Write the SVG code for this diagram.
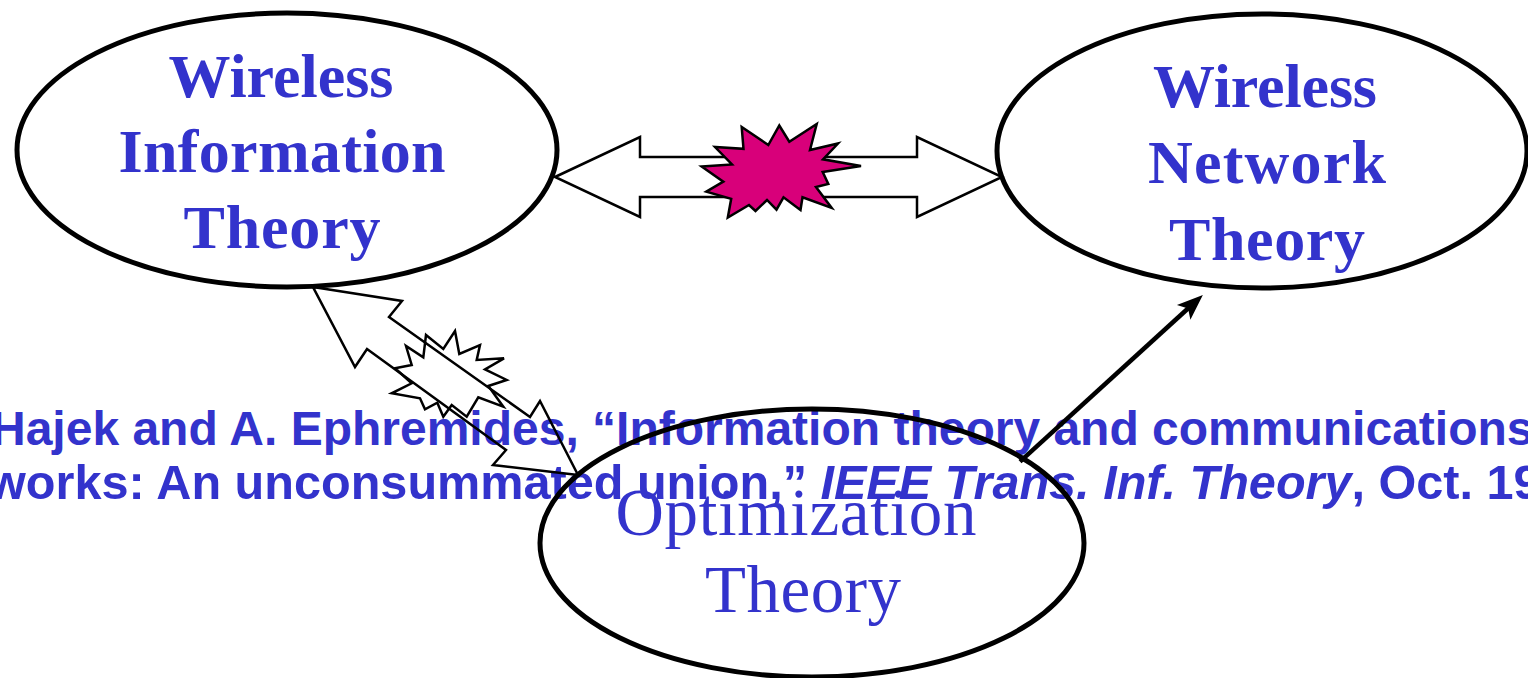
<svg xmlns="http://www.w3.org/2000/svg" width="1528" height="678" viewBox="0 0 1528 678">
  <style>
    .node { fill: none; stroke: #000; stroke-width: 5; }
    .lbl { font-family: "Liberation Serif", "Times New Roman", serif; font-weight: bold; font-size: 62px; fill: #3333CC; text-anchor: middle; }
    .lblr { font-family: "Liberation Serif", "Times New Roman", serif; font-weight: normal; font-size: 67px; fill: #3333CC; text-anchor: middle; }
    .cite { font-family: "Liberation Sans", Arial, sans-serif; font-weight: bold; font-size: 48px; fill: #3333CC; }
    .fat { fill: #fff; stroke: #000; stroke-width: 2.5; stroke-linejoin: miter; }
    .fatOpen { fill: none; stroke: #000; stroke-width: 2.5; stroke-linejoin: miter; }
    .burst { fill: #D8007A; stroke: #000; stroke-width: 2.5; stroke-linejoin: miter; }
    .burstOpen { fill: none; stroke: #000; stroke-width: 2.5; stroke-linejoin: miter; }
    .thin { fill: none; stroke: #000; stroke-width: 4.5; }
  </style>
  <defs>
    <marker id="head" viewBox="-30 -12 32 24" refX="-12" refY="0" markerWidth="32" markerHeight="24" markerUnits="userSpaceOnUse" orient="auto">
      <path d="M0,0 L-26,-10 L-20,0 L-26,10 Z" fill="#000"/>
    </marker>
  </defs>
  <rect x="0" y="0" width="1528" height="678" fill="#fff"/>

  <g id="citation">
    <text class="cite" x="-9" y="445">Hajek and A. Ephremides, “Information theory and communications</text>
    <text class="cite" x="-12" y="499" style="font-size:48.6px">works: An unconsummated union,” <tspan font-style="italic">IEEE Trans. Inf. Theory</tspan>, Oct. 19</text>
  </g>

  <g id="node-wit">
    <ellipse class="node" cx="287" cy="150" rx="270" ry="137"/>
    <text class="lbl" x="281" y="97" textLength="225" lengthAdjust="spacing">Wireless</text>
    <text class="lbl" x="282" y="172" textLength="327" lengthAdjust="spacing">Information</text>
    <text class="lbl" x="282" y="248" textLength="197" lengthAdjust="spacing">Theory</text>
  </g>

  <g id="node-wnt">
    <ellipse class="node" cx="1262" cy="151" rx="265" ry="137"/>
    <text class="lbl" x="1265" y="107" textLength="224" lengthAdjust="spacing">Wireless</text>
    <text class="lbl" x="1267" y="183" textLength="238" lengthAdjust="spacing">Network</text>
    <text class="lbl" x="1267" y="260" textLength="196" lengthAdjust="spacing">Theory</text>
  </g>

  <g id="node-ot">
    <ellipse class="node" cx="812" cy="543" rx="272" ry="134"/>
    <text class="lblr" x="796" y="535" textLength="361" lengthAdjust="spacing">Optimization</text>
    <text class="lblr" x="803" y="612" textLength="196" lengthAdjust="spacing">Theory</text>
  </g>

  <g id="connectors">
    <polygon class="fat" points="555,177 640,137 640,157 917,157 917,137 1002,177 917,217 917,197 640,197 640,217"/>
    <polygon class="burst" points="701.7,166.5 732,164.5 715,147 743.5,148.8 741.7,127 768.3,145 779.3,125.5 789.3,141.7 816.7,124 810,150 838,143.5 823,159.3 861,166 822.7,172 828.3,184 816,187 831.7,208 802.5,197.3 800.5,210 783.5,197.3 776.5,209.7 767,200 755.5,211 749,205 727.8,217.5 731.2,198.8 706.3,191.7 723.3,181.7"/>

    <polygon class="fatOpen" points="313,287 402,301 389,317 530,417 540,401 578,475 493,465 506,450 367,349 355,367"/>
    <polygon class="burstOpen" points="426,335 443.3,349 455,331 459.3,354 480,345 476.7,360 504,358.3 485,369.3 506.7,380 488.3,386 503.3,406.7 478.3,397.3 466.7,416.7 451.7,405 443.3,416.7 437.3,402.7 425,409.3 420,398.3 391.7,393.3 411.7,383.3 395,368.3 411.7,365 406,346 423.3,357.3"/>

    <line class="thin" x1="1020" y1="461.7" x2="1194" y2="303" marker-end="url(#head)"/>
  </g>
</svg>
